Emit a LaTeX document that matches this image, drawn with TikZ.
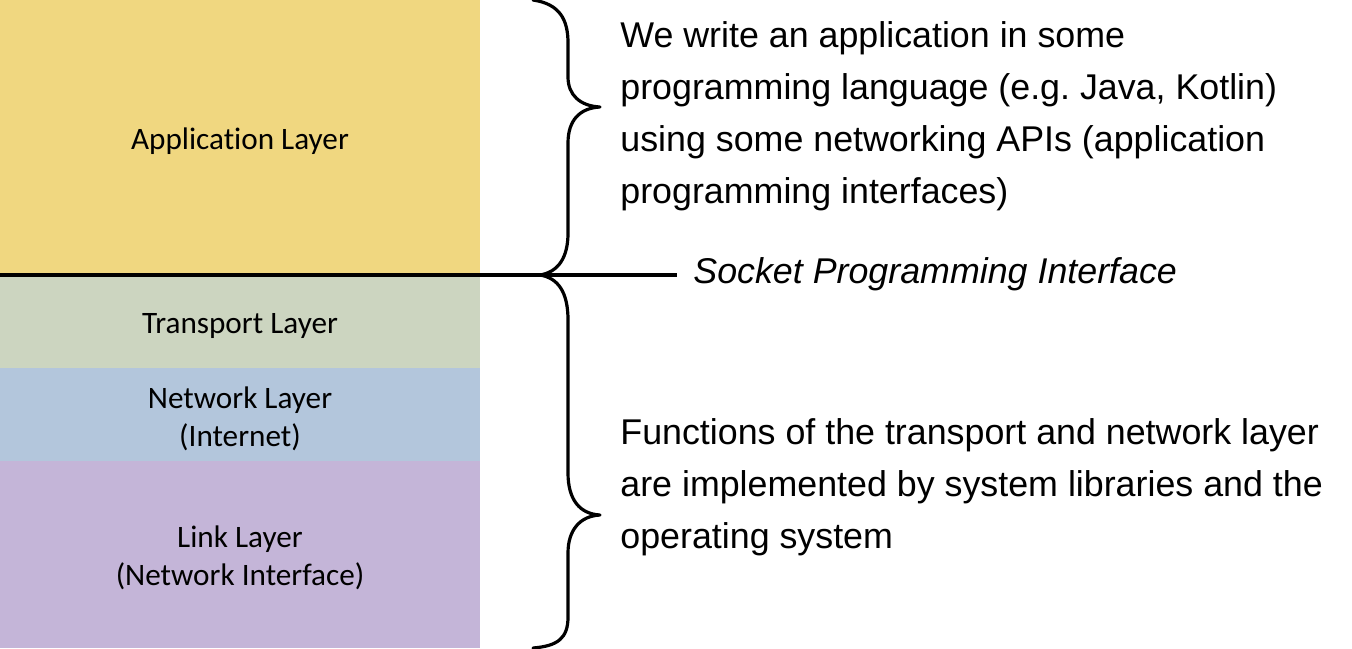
\documentclass[tikz,border=0pt]{standalone}
\usepackage{fontspec}
\setmainfont{Liberation Sans}
\newfontfamily\calib[Ligatures={NoCommon,NoRare,NoContextual}]{Carlito}
\frenchspacing
\definecolor{appc}{HTML}{F0D780}
\definecolor{trac}{HTML}{CCD5C0}
\definecolor{netc}{HTML}{B3C6DC}
\definecolor{linkc}{HTML}{C4B5D8}
\tikzset{
  layerlbl/.style={align=center, font=\calib\fontsize{15.6pt}{19pt}\selectfont, inner sep=0pt},
  desc/.style={align=left, font=\fontsize{17.9pt}{26pt}\selectfont, inner sep=0pt, anchor=west},
  bracel/.style={line width=1.6pt, line cap=round, line join=round},
  sepline/.style={line width=2pt}
}
\begin{document}
\begin{tikzpicture}[x=0.5pt, y=-0.5pt]
\useasboundingbox (0,0) rectangle (1352,648);
\fill[appc] (0,0) rectangle (480,275);
\fill[trac] (0,275) rectangle (480,368);
\fill[netc] (0,368) rectangle (480,461);
\fill[linkc] (0,461) rectangle (480,648);
\node[layerlbl] (app) at (240,141) {Application Layer};
\node[layerlbl] (tra) at (240,326) {Transport Layer};
\node[layerlbl] (net) at (240,419) {Network Layer\\(Internet)};
\node[layerlbl] (lnk) at (240,558) {Link Layer\\(Network Interface)};
% upper brace
\draw[bracel] (533,0) .. controls (560,4) and (568,20) .. (568,43) -- (568,77)
  .. controls (568,95) and (580,106) .. (600,107)
  .. controls (580,108) and (568,120) .. (568,143) -- (568,233)
  .. controls (568,258) and (558,272) .. (540,275);
% lower brace
\draw[bracel] (540,275) .. controls (558,278) and (568,292) .. (568,320) -- (568,473)
  .. controls (568,500) and (580,514) .. (600,515)
  .. controls (580,516) and (568,530) .. (568,553) -- (568,617)
  .. controls (568,638) and (558,646) .. (533,648);
\coordinate (lineend) at (677,275);
\draw[sepline] (0,275) -- (lineend);
\node[desc] (spi) at (693,274) {\itshape Socket Programming Interface};
\node[desc] (top) at (620,116) {We write an application in some\\programming language (e.g. Java, Kotlin)\\using some networking APIs (application\\programming interfaces)};
\node[desc] (bot) at (620,487) {Functions of the transport and network layer\\are implemented by system libraries and the\\operating system};
\end{tikzpicture}
\end{document}
